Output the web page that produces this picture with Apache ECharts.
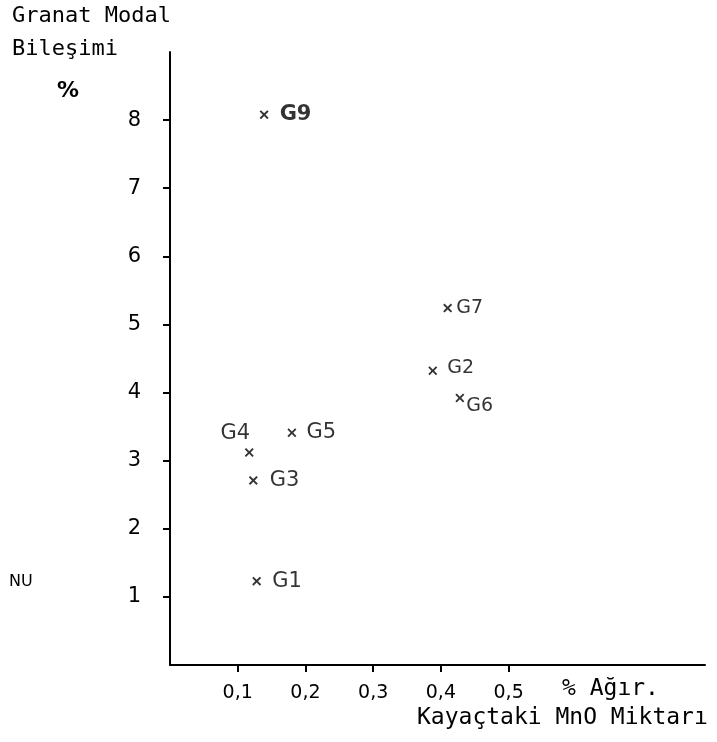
<!DOCTYPE html>
<html><head><meta charset="utf-8">
<script src="https://cdn.jsdelivr.net/npm/echarts@6/dist/echarts.min.js"></script>
<style>html,body{margin:0;padding:0;background:#fff}#c{width:717px;height:742px}</style>
</head><body><div id="c"></div>
<script>
const sampleNames = ['G1','G2','G3','G4','G5','G6','G7','G9'];
const mnoPercent = [0.128,0.388,0.123,0.117,0.180,0.428,0.410,0.139];
const garnetModal = [1.23,4.32,2.71,3.12,3.41,3.92,5.24,8.08];
const xTicks = [0.1,0.2,0.3,0.4,0.5];
const yTicks = [1,2,3,4,5,6,7,8];

const FONT = 'DejaVu Sans';
const MONO = 'DejaVu Sans Mono';
const INK = '#000';
const labelStyle = {
  G1:{position:'right',distance:11,fontSize:21},
  G2:{position:'right',distance:10,fontSize:19,offset:[0,-3]},
  G3:{position:'right',distance:12,fontSize:21},
  G4:{position:'inside',fontSize:21,offset:[-14,-19]},
  G5:{position:'right',distance:10,fontSize:21},
  G6:{position:'right',distance:2,fontSize:19,offset:[0,8]},
  G7:{position:'right',distance:4,fontSize:19},
  G9:{position:'right',distance:11,fontSize:21,fontWeight:'bold'}
};
const cross = 'path://M0,1.5L1.5,0L5,3.5L8.5,0L10,1.5L6.5,5L10,8.5L8.5,10L5,6.5L1.5,10L0,8.5L3.5,5Z';

const points = sampleNames.map((n,i)=>({
  name:n, value:[mnoPercent[i], garnetModal[i]],
  label:Object.assign({show:true,formatter:'{b}',color:INK,fontFamily:FONT,textBorderWidth:0}, labelStyle[n])
}));

const chart = echarts.init(document.getElementById('c'), null, {renderer:'canvas'});
chart.setOption({
  animation:false,
  backgroundColor:'#fff',
  grid:{left:170,right:12,top:52,bottom:77},
  xAxis:{
    type:'value', min:0, max:0.79, interval:0.1,
    axisLine:{show:true,onZero:false,lineStyle:{color:INK,width:2}},
    axisTick:{show:true,length:7,inside:false,customValues:xTicks,lineStyle:{color:INK,width:2}},
    axisLabel:{show:true,customValues:xTicks,margin:19,color:INK,fontSize:19,fontFamily:FONT,
      formatter:v=>String(Math.round(v*10)/10).replace('.',',')},
    splitLine:{show:false}
  },
  yAxis:{
    type:'value', min:0, max:9, interval:1,
    axisLine:{show:true,onZero:false,lineStyle:{color:INK,width:2}},
    axisTick:{show:true,length:7,inside:false,customValues:yTicks,lineStyle:{color:INK,width:2}},
    axisLabel:{show:true,customValues:yTicks,margin:29,color:INK,fontSize:21,fontFamily:FONT},
    splitLine:{show:false}
  },
  series:[{
    type:'scatter', symbol:cross, symbolSize:9,
    itemStyle:{color:INK},
    data:points
  }],
  graphic:[
    {type:'text',left:12,top:5,style:{text:'Granat Modal',font:'22px "'+MONO+'"',fill:INK}},
    {type:'text',left:12,top:38,style:{text:'Bileşimi',font:'22px "'+MONO+'"',fill:INK}},
    {type:'text',left:57,top:80,style:{text:'%',font:'bold 22px "'+FONT+'"',fill:INK}},
    {type:'text',left:562,top:678,style:{text:'% Ağır.',font:'23px "'+MONO+'"',fill:INK}},
    {type:'text',left:417,top:707,style:{text:'Kayaçtaki MnO Miktarı',font:'23px "'+MONO+'"',fill:INK}},
    {type:'text',left:9,top:574,style:{text:'NU',font:'16px "'+FONT+'"',fill:INK}}
  ]
});
</script></body></html>
